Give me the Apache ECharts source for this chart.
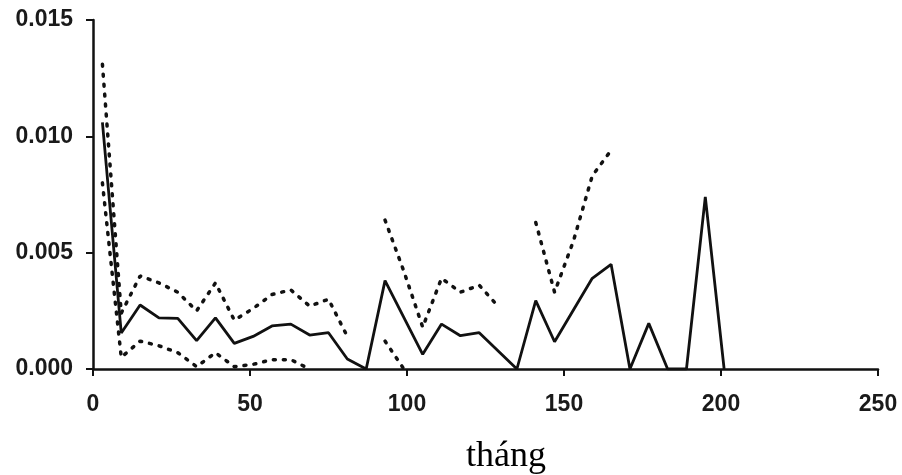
<!DOCTYPE html>
<html>
<head>
<meta charset="utf-8">
<script src="https://cdn.jsdelivr.net/npm/echarts@6/dist/echarts.min.js"></script>
<style>
  html, body { margin: 0; padding: 0; background: #fff; }
  #chart { width: 902px; height: 475px; }
</style>
</head>
<body>
<div id="chart"></div>
<script>
// Monthly hazard estimate with its upper and lower confidence bounds
const estMonths = [3, 9, 15, 21, 27, 33, 39, 45, 51, 57, 63, 69, 75, 81, 87, 93, 105, 111, 117, 123, 135, 141, 147, 159, 165, 171, 177, 183, 189, 195, 201];
const estimate = [0.0106, 0.00155, 0.00275, 0.0022, 0.00218, 0.00122, 0.0022, 0.0011, 0.0014, 0.00185, 0.00193, 0.00146, 0.00156, 0.00043, 0, 0.0038, 0.00063, 0.00193, 0.00143, 0.00156, 0, 0.00294, 0.00117, 0.0039, 0.0045, 0, 0.00196, 0, 0, 0.0074, 0];

const boundMonths = [3, 9, 15, 21, 27, 33, 39, 45, 51, 57, 63, 69, 75, 81, 87, 93, 99, 105, 111, 117, 123, 129, 135, 141, 147, 153, 159, 165];
const upperBound = [0.0131, 0.0024, 0.0040, 0.0037, 0.0033, 0.0025, 0.0037, 0.0021, 0.0026, 0.0032, 0.0034, 0.0027, 0.0030, 0.0014, null, 0.0064, 0.0042, 0.0018, 0.0039, 0.0033, 0.0036, 0.0027, null, 0.0063, 0.0033, 0.0055, 0.0083, 0.0094];
const lowerBound = [0.0080, 0.0005, 0.0012, 0.0010, 0.0007, 0.0001, 0.0007, 0.0001, 0.0002, 0.0004, 0.0004, 0.0000, null, null, null, 0.0012, 0.0000, null, null, null, null, null, null, null, null, null, null, null];

const xTicks = [0, 50, 100, 150, 200, 250];
const yTicks = [0, 0.005, 0.010, 0.015];
const xTitle = 'tháng';

const pairs = (xs, ys) => xs.map((x, i) => [x, ys[i]]);

const ink = '#111';
const labelFont = { fontFamily: 'Liberation Sans, Arial, sans-serif', fontWeight: 'bold', fontSize: 23, color: '#1a1a1a' };

const dotted = {
  color: ink,
  width: 3.5,
  type: [2, 8],
  cap: 'round'
};

const chart = echarts.init(document.getElementById('chart'), null, { renderer: 'canvas' });
chart.setOption({
  animation: false,
  backgroundColor: '#fff',
  grid: { left: 93, right: 24, top: 20, bottom: 106, containLabel: false },
  xAxis: {
    type: 'value',
    min: xTicks[0],
    max: xTicks[xTicks.length - 1],
    interval: xTicks[1] - xTicks[0],
    axisLine: { show: true, lineStyle: { color: ink, width: 2.5 } },
    axisTick: { show: true, length: 7, lineStyle: { color: ink, width: 2 } },
    axisLabel: Object.assign({ margin: 24 }, labelFont),
    splitLine: { show: false }
  },
  yAxis: {
    type: 'value',
    min: yTicks[0],
    max: yTicks[yTicks.length - 1],
    interval: yTicks[1] - yTicks[0],
    axisLine: { show: true, lineStyle: { color: ink, width: 2.5 } },
    axisTick: { show: true, length: 7, lineStyle: { color: ink, width: 2 } },
    axisLabel: Object.assign({ margin: 20, formatter: v => v.toFixed(3) }, labelFont),
    splitLine: { show: false }
  },
  graphic: [{
    type: 'text',
    left: 466,
    top: 439,
    style: {
      text: xTitle,
      fontFamily: 'Liberation Serif, Times New Roman, serif',
      fontSize: 36,
      fill: '#000'
    }
  }],
  series: [
    {
      name: 'upper',
      type: 'line',
      data: pairs(boundMonths, upperBound),
      showSymbol: false,
      connectNulls: false,
      lineStyle: dotted,
      clip: true
    },
    {
      name: 'lower',
      type: 'line',
      data: pairs(boundMonths, lowerBound),
      showSymbol: false,
      connectNulls: false,
      lineStyle: dotted,
      clip: true
    },
    {
      name: 'estimate',
      type: 'line',
      data: pairs(estMonths, estimate),
      showSymbol: false,
      lineStyle: { color: ink, width: 2.8 },
      clip: true
    }
  ]
});
</script>
</body>
</html>
